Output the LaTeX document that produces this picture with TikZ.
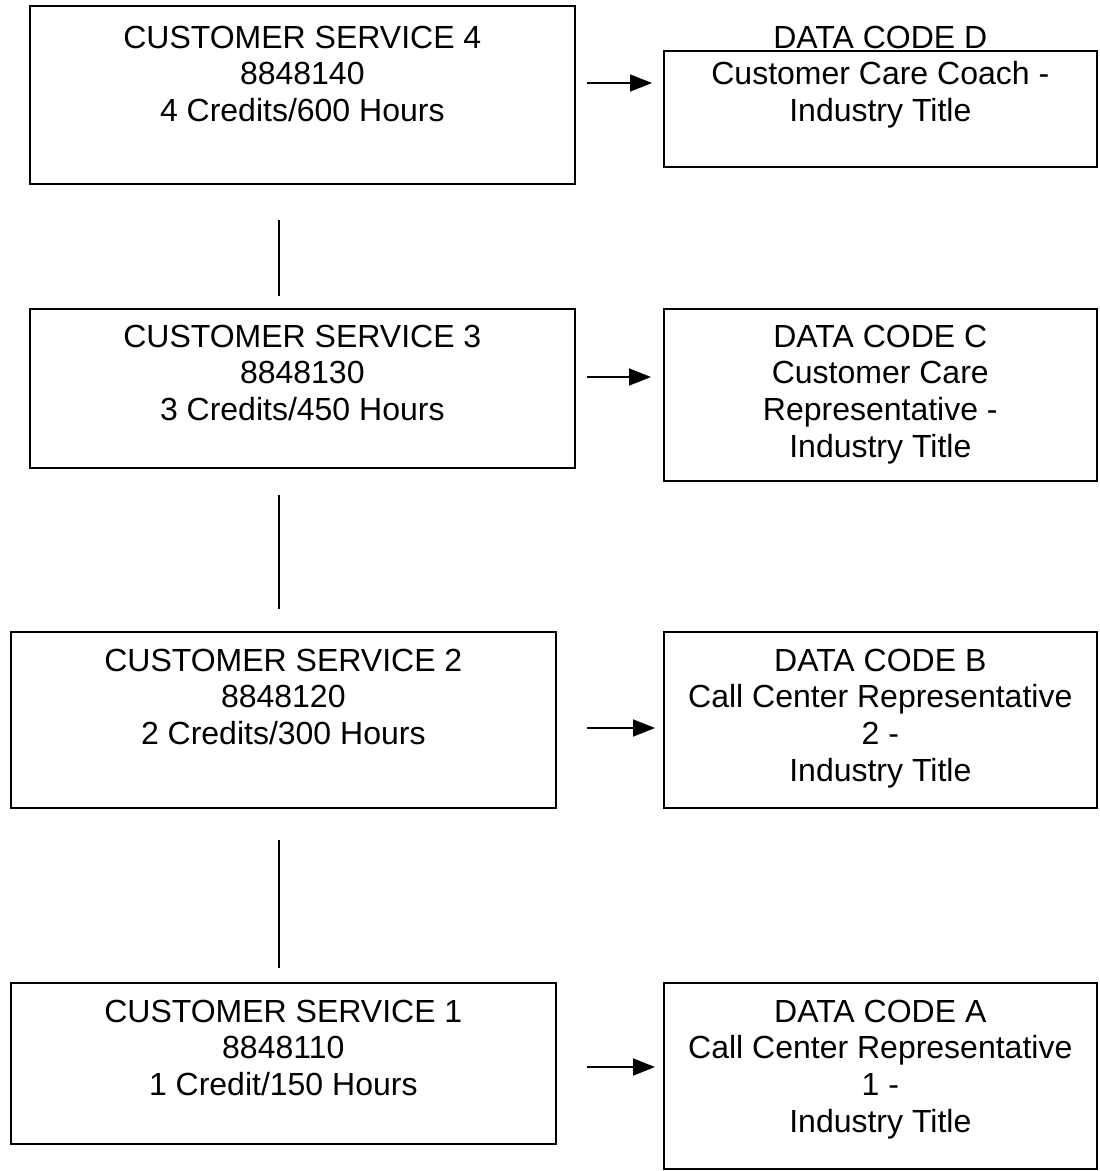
\documentclass[tikz,border=0pt]{standalone}
\usepackage{fontspec}
\setmainfont{Liberation Sans}
\usetikzlibrary{arrows.meta}

\begin{document}
\begin{tikzpicture}[x=1pt, y=-1pt,
  box/.style={draw=black, line width=1.6pt, rectangle, inner sep=0pt,
              anchor=north west},
  label/.style={align=center, anchor=north, inner sep=0pt,
                font=\fontsize{32}{36.8}\selectfont},
  link/.style={draw=black, line width=1.6pt},
  arr/.style={draw=black, line width=1.6pt,
              -{Triangle[length=22pt, width=17pt]}}
]
  \useasboundingbox[fill=white] (0,0) rectangle (1100,1171);

  % ---------- course boxes (left column) ----------
  \node[box, minimum width=545pt, minimum height=178pt] (cs4) at (29,5) {};
  \node[box, minimum width=545pt, minimum height=159pt] (cs3) at (29,308) {};
  \node[box, minimum width=545pt, minimum height=176pt] (cs2) at (10,631) {};
  \node[box, minimum width=545pt, minimum height=161pt] (cs1) at (10,982) {};

  % ---------- data code boxes (right column) ----------
  \node[box, minimum width=433pt, minimum height=116pt] (dd) at (663,50) {};
  \node[box, minimum width=433pt, minimum height=172pt] (dc) at (663,308) {};
  \node[box, minimum width=433pt, minimum height=176pt] (db) at (663,631) {};
  \node[box, minimum width=433pt, minimum height=186pt] (da) at (663,982) {};

  % ---------- texts (top of first line given as cap top) ----------
  \node[label] (t4) at (cs4.north |- 0,25.5)
    {CUSTOMER SERVICE 4\\8848140\\4 Credits/600 Hours};
  \node[label] (td) at (dd.north |- 0,25.5)
    {DATA CODE D\\Customer Care Coach -\\Industry Title};

  \node[label] (t3) at (cs3.north |- 0,324.5)
    {CUSTOMER SERVICE 3\\8848130\\3 Credits/450 Hours};
  \node[label] (tc) at (dc.north |- 0,324.5)
    {DATA CODE C\\Customer Care\\Representative -\\Industry Title};

  \node[label] (t2) at (cs2.north |- 0,648.5)
    {CUSTOMER SERVICE 2\\8848120\\2 Credits/300 Hours};
  \node[label] (tb) at (db.north |- 0,648.5)
    {DATA CODE B\\Call Center Representative\\2 -\\Industry Title};

  \node[label] (t1) at (cs1.north |- 0,999.5)
    {CUSTOMER SERVICE 1\\8848110\\1 Credit/150 Hours};
  \node[label] (ta) at (da.north |- 0,999.5)
    {DATA CODE A\\Call Center Representative\\1 -\\Industry Title};

  % ---------- vertical links between levels ----------
  \coordinate (col) at (279,0);
  \draw[link, shorten <=35pt, shorten >=12pt] (cs4.south -| col) -- (cs3.north -| col);
  \draw[link, shorten <=26pt, shorten >=22pt] (cs3.south -| col) -- (cs2.north -| col);
  \draw[link, shorten <=31pt, shorten >=14pt] (cs2.south -| col) -- (cs1.north -| col);

  % ---------- arrows to the data codes ----------
  \coordinate (r4) at (0,83);
  \coordinate (r3) at (0,377);
  \coordinate (r2) at (0,728);
  \coordinate (r1) at (0,1067);
  \draw[arr, shorten <=11pt, shorten >=11pt] (cs4.east |- r4) -- (dd.west |- r4);
  \draw[arr, shorten <=11pt, shorten >=12pt] (cs3.east |- r3) -- (dc.west |- r3);
  \draw[arr, shorten <=30pt, shorten >=8pt] (cs2.east |- r2) -- (db.west |- r2);
  \draw[arr, shorten <=30pt, shorten >=8pt] (cs1.east |- r1) -- (da.west |- r1);
\end{tikzpicture}
\end{document}
